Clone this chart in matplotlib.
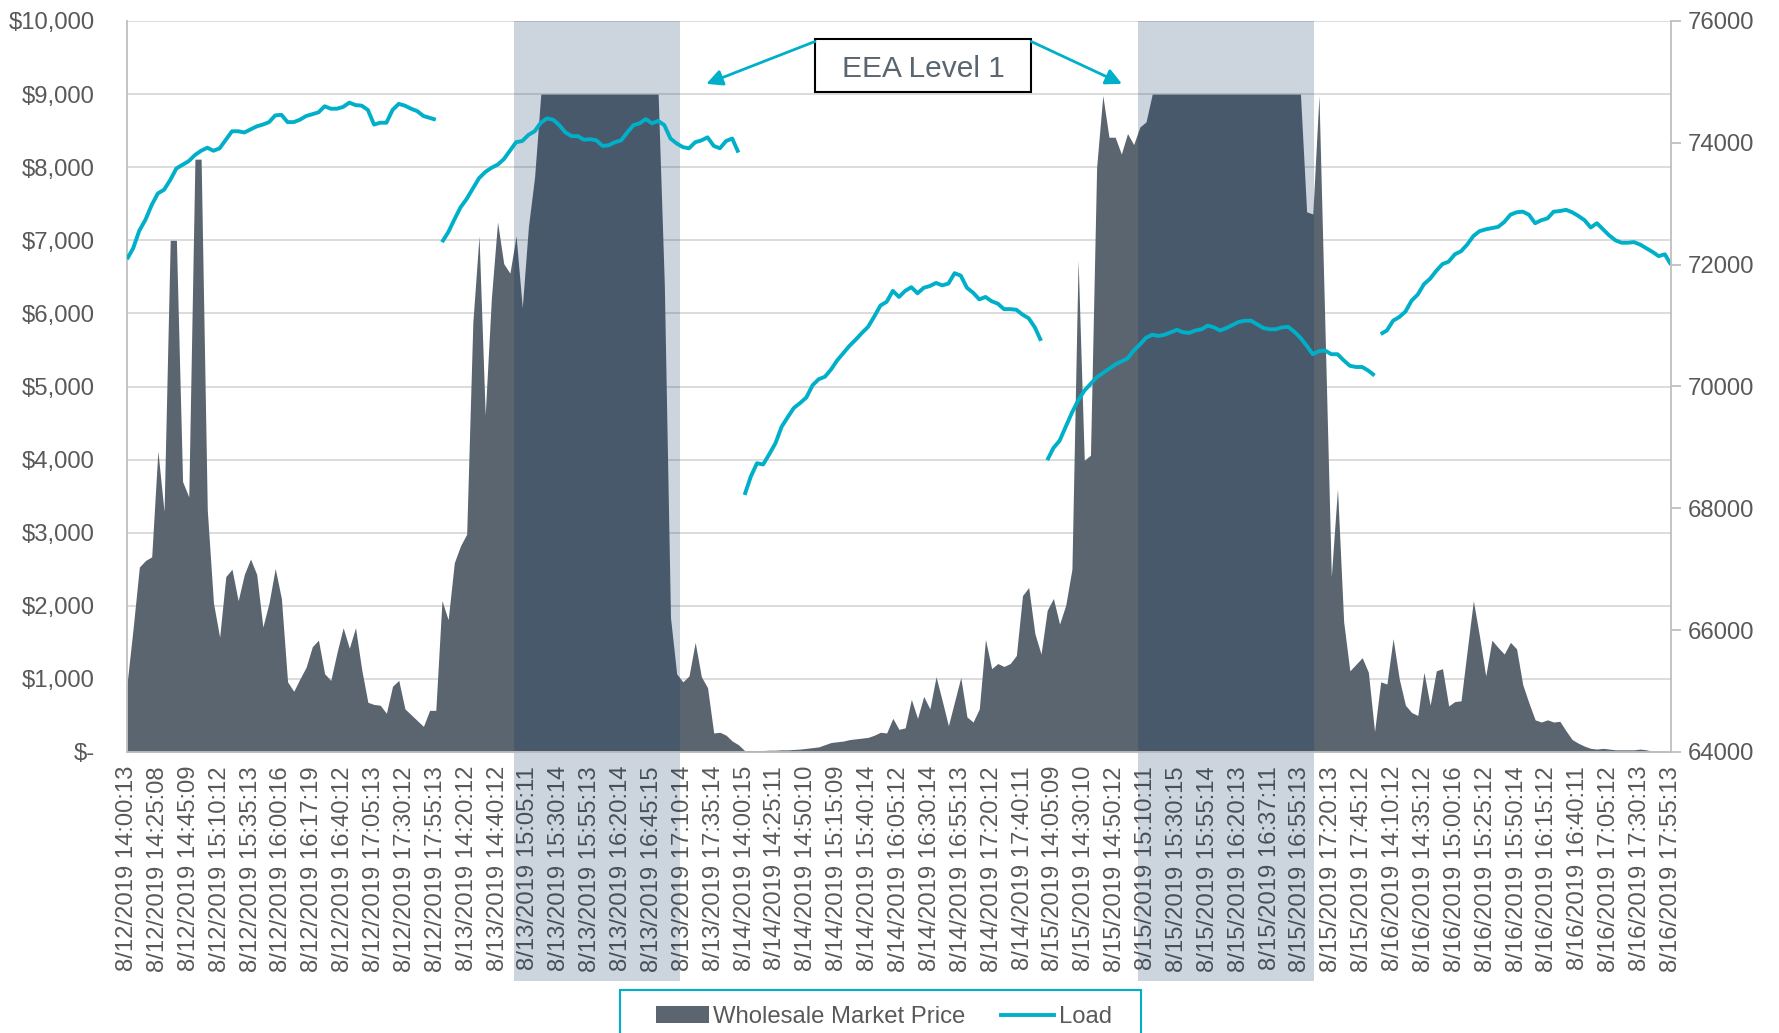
import numpy as np
import matplotlib.pyplot as plt
from matplotlib.patches import Rectangle, Patch
from matplotlib.lines import Line2D
from matplotlib.ticker import FuncFormatter

plt.rcParams['font.family'] = ['Liberation Sans', 'DejaVu Sans']

# every 5th timestamp is labelled on the category axis
tick_labels = [
    "8/12/2019 14:00:13", "8/12/2019 14:25:08", "8/12/2019 14:45:09", "8/12/2019 15:10:12",
    "8/12/2019 15:35:13", "8/12/2019 16:00:16", "8/12/2019 16:17:19", "8/12/2019 16:40:12",
    "8/12/2019 17:05:13", "8/12/2019 17:30:12", "8/12/2019 17:55:13", "8/13/2019 14:20:12",
    "8/13/2019 14:40:12", "8/13/2019 15:05:11", "8/13/2019 15:30:14", "8/13/2019 15:55:13",
    "8/13/2019 16:20:14", "8/13/2019 16:45:15", "8/13/2019 17:10:14", "8/13/2019 17:35:14",
    "8/14/2019 14:00:15", "8/14/2019 14:25:11", "8/14/2019 14:50:10", "8/14/2019 15:15:09",
    "8/14/2019 15:40:14", "8/14/2019 16:05:12", "8/14/2019 16:30:14", "8/14/2019 16:55:13",
    "8/14/2019 17:20:12", "8/14/2019 17:40:11", "8/15/2019 14:05:09", "8/15/2019 14:30:10",
    "8/15/2019 14:50:12", "8/15/2019 15:10:11", "8/15/2019 15:30:15", "8/15/2019 15:55:14",
    "8/15/2019 16:20:13", "8/15/2019 16:37:11", "8/15/2019 16:55:13", "8/15/2019 17:20:13",
    "8/15/2019 17:45:12", "8/16/2019 14:10:12", "8/16/2019 14:35:12", "8/16/2019 15:00:16",
    "8/16/2019 15:25:12", "8/16/2019 15:50:14", "8/16/2019 16:15:12", "8/16/2019 16:40:11",
    "8/16/2019 17:05:12", "8/16/2019 17:30:13", "8/16/2019 17:55:13",
]

# wholesale price $/MWh, 5 min intervals 14:00-17:55, days back to back
price_d1 = [930, 1700, 2530, 2620, 2670, 4120, 3290, 7000, 7000, 3700,
            3490, 8110, 8110, 3310, 2040, 1570, 2400, 2500, 2070, 2430,
            2640, 2430, 1710, 2040, 2510, 2100, 960, 830, 1000, 1160,
            1440, 1530, 1070, 980, 1360, 1700, 1420, 1700, 1130, 680,
            650, 640, 530, 900, 980, 590, 510, 430, 350, 570, 570]
price_d2 = [2070, 1810, 2590, 2820, 2980, 5880, 7060, 4610, 6210, 7250,
            6680, 6550, 7060, 6080, 7190, 7870, 9000, 9000, 9000, 9000,
            9000, 9000, 9000, 9000, 9000, 9000, 9000, 9000, 9000, 9000,
            9000, 9000, 9000, 9000, 9000, 9000, 6400, 1840, 1070, 960,
            1040, 1500, 1030, 880, 260, 270, 230, 150, 100]
price_d3 = [20, 20, 20, 20, 25, 25, 30, 30, 35, 40,
            50, 60, 70, 100, 130, 140, 150, 170, 180, 190,
            200, 230, 270, 260, 460, 310, 330, 720, 460, 760,
            590, 1030, 700, 360, 690, 1020, 480, 410, 590, 1540,
            1140, 1210, 1170, 1210, 1320, 2140, 2250, 1620, 1340]
price_d4 = [1940, 2100, 1750, 2010, 2500, 6730, 3990, 4060, 8000, 8980,
            8410, 8410, 8180, 8460, 8310, 8550, 8620, 9000, 9000, 9000,
            9000, 9000, 9000, 9000, 9000, 9000, 9000, 9000, 9000, 9000,
            9000, 9000, 9000, 9000, 9000, 9000, 9000, 9000, 9000, 9000,
            9000, 9000, 7390, 7360, 8980, 5700, 2400, 3600, 1780, 1110,
            1200, 1290, 1090, 280]
price_d5 = [960, 930, 1550, 1000, 640, 540, 500, 1090, 640, 1110,
            1140, 630, 690, 700, 1390, 2070, 1580, 1040, 1530, 1430,
            1340, 1500, 1410, 920, 670, 440, 410, 440, 410, 420,
            290, 170, 120, 80, 50, 40, 50, 40, 30, 30,
            30, 30, 40, 30, 10, 10, 10, 0]

# system load MW
load_d1 = [72090, 72270, 72560, 72740, 72980, 73170, 73230, 73390, 73580, 73640,
           73700, 73800, 73870, 73920, 73870, 73910, 74050, 74190, 74190, 74170,
           74220, 74270, 74300, 74340, 74450, 74460, 74340, 74340, 74380, 74440,
           74470, 74500, 74600, 74560, 74560, 74590, 74660, 74620, 74610, 74540,
           74300, 74330, 74330, 74540, 74640, 74610, 74560, 74520, 74440, 74410, 74380]
load_d2 = [72370, 72530, 72740, 72940, 73080, 73250, 73420, 73520, 73590, 73640,
           73730, 73870, 74010, 74030, 74130, 74190, 74330, 74400, 74380, 74290,
           74170, 74110, 74110, 74050, 74060, 74040, 73950, 73960, 74010, 74040,
           74170, 74290, 74320, 74390, 74320, 74360, 74290, 74070, 73990, 73930,
           73910, 74010, 74040, 74090, 73950, 73910, 74030, 74070, 73840]
load_d3 = [68220, 68520, 68740, 68720, 68890, 69070, 69340, 69500, 69650, 69730,
           69820, 70020, 70120, 70160, 70280, 70430, 70550, 70670, 70770, 70880,
           70980, 71150, 71330, 71390, 71570, 71470, 71570, 71630, 71530, 71620,
           71650, 71700, 71660, 71690, 71860, 71820, 71620, 71540, 71430, 71470,
           71400, 71360, 71270, 71270, 71260, 71180, 71120, 70970, 70750]
load_d4 = [68790, 68990, 69110, 69340, 69570, 69770, 69930, 70040, 70150, 70220,
           70290, 70360, 70410, 70460, 70590, 70690, 70800, 70850, 70830, 70850,
           70890, 70930, 70890, 70880, 70920, 70940, 71000, 70970, 70920, 70960,
           71010, 71060, 71080, 71080, 71020, 70960, 70940, 70940, 70970, 70980,
           70900, 70800, 70670, 70530, 70580, 70590, 70530, 70530, 70430, 70340,
           70320, 70320, 70260, 70180]
load_d5 = [70860, 70920, 71080, 71140, 71230, 71410, 71510, 71680, 71770, 71900,
           72010, 72050, 72170, 72220, 72330, 72470, 72550, 72580, 72600, 72620,
           72700, 72820, 72860, 72870, 72820, 72680, 72730, 72760, 72870, 72880,
           72900, 72860, 72800, 72730, 72610, 72680, 72580, 72480, 72400, 72360,
           72360, 72370, 72330, 72270, 72210, 72140, 72170, 72000]

# EEA level 1 windows, in category positions
eea_windows = [(62.7, 89.6), (163.7, 192.2)]

price_days = [price_d1, price_d2, price_d3, price_d4, price_d5]
load_days = [load_d1, load_d2, load_d3, load_d4, load_d5]
price = np.concatenate(price_days)
x = np.arange(len(price))

area_c = '#5a6570'
cyan = '#00afc8'
txt = '#595959'
axis_c = '#bfbfbf'
fs = 17.2

fig = plt.figure(figsize=(17.79, 10.33), dpi=100)
ax = fig.add_axes([127 / 1779, 1 - 752 / 1033, 1544 / 1779, 731 / 1033])
ax2 = ax.twinx()

ax.set_axisbelow(True)
ax.fill_between(x, price, 0, color=area_c, lw=0, zorder=2)

for a, b in eea_windows:
    ax.add_patch(Rectangle((a, -0.313), b - a, 1.313, transform=ax.get_xaxis_transform(),
                           facecolor='#002d5a', alpha=0.2, lw=0, clip_on=False, zorder=2.2))

# load drawn per day so the days are not joined
start = 0
for ld in load_days:
    xs = x[start:start + len(ld)]
    ax2.plot(xs, ld, color=cyan, lw=2.8, solid_joinstyle='round', solid_capstyle='butt')
    start += len(ld)

ax.set_xlim(0, len(price) - 1)
ax.set_ylim(0, 10000)
ax.set_yticks(np.arange(0, 10001, 1000))
ax.yaxis.set_major_formatter(FuncFormatter(lambda v, p: '$-' if v == 0 else f'${v:,.0f}'))
ax.set_xticks(x[::5])
ax.set_xticklabels(tick_labels, rotation=90)
ax.yaxis.grid(True, color='#d9d9d9', lw=1.3)
ax.tick_params(axis='y', length=0, pad=23, labelsize=fs, labelcolor=txt)
ax.tick_params(axis='x', length=0, pad=10, labelsize=fs, labelcolor=txt)
for s in ['top', 'right']:
    ax.spines[s].set_visible(False)
for s in ['left', 'bottom']:
    ax.spines[s].set_color(axis_c)
    ax.spines[s].set_linewidth(1.3)

ax2.set_ylim(64000, 76000)
ax2.set_yticks(np.arange(64000, 76001, 2000))
ax2.tick_params(axis='y', length=7, width=1.3, color=axis_c, pad=5, labelsize=fs, labelcolor=txt)
for s in ['top', 'left', 'bottom']:
    ax2.spines[s].set_visible(False)
ax2.spines['right'].set_color(axis_c)
ax2.spines['right'].set_linewidth(1.3)

# callout
ax.add_patch(Rectangle((111.4, 9030), 35.0, 730, facecolor='white', edgecolor='black',
                       lw=1.5, zorder=6, clip_on=False))
ax.text(128.9, 9340, 'EEA Level 1', ha='center', va='center', fontsize=21.5, color=area_c, zorder=7)
ax.annotate('', xy=(93.8, 9140), xytext=(111.4, 9720),
            arrowprops=dict(arrowstyle='-|>', color=cyan, lw=2, mutation_scale=24,
                            shrinkA=0, shrinkB=0), zorder=7)
ax.annotate('', xy=(161.1, 9140), xytext=(146.4, 9720),
            arrowprops=dict(arrowstyle='-|>', color=cyan, lw=2, mutation_scale=24,
                            shrinkA=0, shrinkB=0), zorder=7)

# legend box runs off the bottom edge like the original
fig.patches.append(Rectangle((620 / 1779, -0.02), 521 / 1779, 0.02 + 1 - 990 / 1033,
                             transform=fig.transFigure, facecolor='white', edgecolor=cyan,
                             lw=1.5, zorder=0))
handles = [Patch(facecolor=area_c, edgecolor='none'), Line2D([], [], color=cyan, lw=2.8)]
fig.legend(handles, ['Wholesale Market Price', 'Load'], loc='center left',
           bbox_to_anchor=(656 / 1779, 1 - 1017 / 1033), ncol=2, fontsize=fs,
           frameon=False, borderpad=0, borderaxespad=0, handlelength=2.2,
           handletextpad=0.2, columnspacing=1.5, labelcolor=txt)

fig.savefig('out.png', dpi=100)
